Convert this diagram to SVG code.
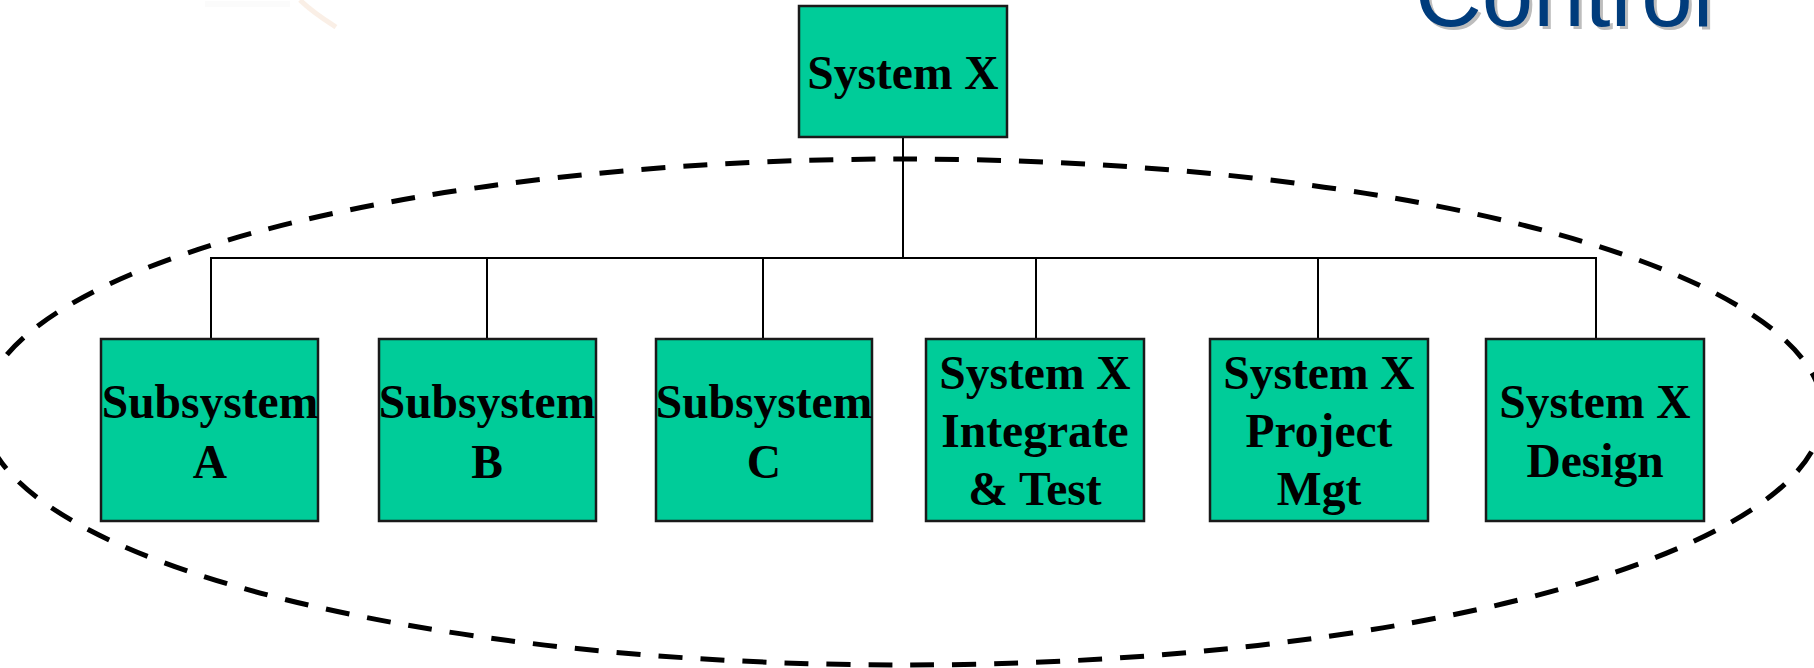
<svg xmlns="http://www.w3.org/2000/svg" width="1814" height="668" viewBox="0 0 1814 668">
<style>
.box{fill:#00CC99;stroke:#1a1a1a;stroke-width:2.5}
.lbl{font-family:"Liberation Serif","Times New Roman",serif;font-weight:bold;font-size:47.5px;fill:#000;text-anchor:middle}
.con{stroke:#000;stroke-width:2;fill:none}
.title{font-family:"Liberation Sans",Arial,sans-serif;font-size:92.5px}
</style>
<rect width="1814" height="668" fill="#fff"/>
<path d="M300,0 C312,12 325,20 336,27" stroke="#f8e8dc" stroke-width="5" fill="none" opacity="0.7"/>
<path d="M205,4 L290,4" stroke="#f7f7f7" stroke-width="6" fill="none" opacity="0.5"/>
<text class="title" x="1418" y="29" fill="#bdbdbd">Control</text>
<text class="title" x="1415" y="26" fill="#003C7C">Control</text>
<ellipse cx="903" cy="412" rx="920" ry="253" fill="none" stroke="#000" stroke-width="5" stroke-dasharray="24 18"/>
<g id="connectors">
<line class="con" x1="903" y1="137" x2="903" y2="258"/>
<line class="con" x1="210" y1="258" x2="1597" y2="258"/>
<line class="con" x1="211" y1="258" x2="211" y2="339"/>
<line class="con" x1="487" y1="258" x2="487" y2="339"/>
<line class="con" x1="763" y1="258" x2="763" y2="339"/>
<line class="con" x1="1036" y1="258" x2="1036" y2="339"/>
<line class="con" x1="1318" y1="258" x2="1318" y2="339"/>
<line class="con" x1="1596" y1="258" x2="1596" y2="339"/>
</g>
<g id="systemX">
<rect class="box" x="799" y="6" width="208" height="131"/>
<text class="lbl" x="903" y="89">System X</text>
</g>
<g id="subsystemA">
<rect class="box" x="101" y="339" width="217" height="182"/>
<text class="lbl" x="210" y="418">Subsystem</text>
<text class="lbl" x="210" y="478">A</text>
</g>
<g id="subsystemB">
<rect class="box" x="379" y="339" width="217" height="182"/>
<text class="lbl" x="487" y="418">Subsystem</text>
<text class="lbl" x="487" y="478">B</text>
</g>
<g id="subsystemC">
<rect class="box" x="656" y="339" width="216" height="182"/>
<text class="lbl" x="764" y="418">Subsystem</text>
<text class="lbl" x="764" y="478">C</text>
</g>
<g id="integrateTest">
<rect class="box" x="926" y="339" width="218" height="182"/>
<text class="lbl" x="1035" y="389">System X</text>
<text class="lbl" x="1035" y="447">Integrate</text>
<text class="lbl" x="1035" y="505">&amp; Test</text>
</g>
<g id="projectMgt">
<rect class="box" x="1210" y="339" width="218" height="182"/>
<text class="lbl" x="1319" y="389">System X</text>
<text class="lbl" x="1319" y="447">Project</text>
<text class="lbl" x="1319" y="505">Mgt</text>
</g>
<g id="design">
<rect class="box" x="1486" y="339" width="218" height="182"/>
<text class="lbl" x="1595" y="418">System X</text>
<text class="lbl" x="1595" y="477">Design</text>
</g>
</svg>
